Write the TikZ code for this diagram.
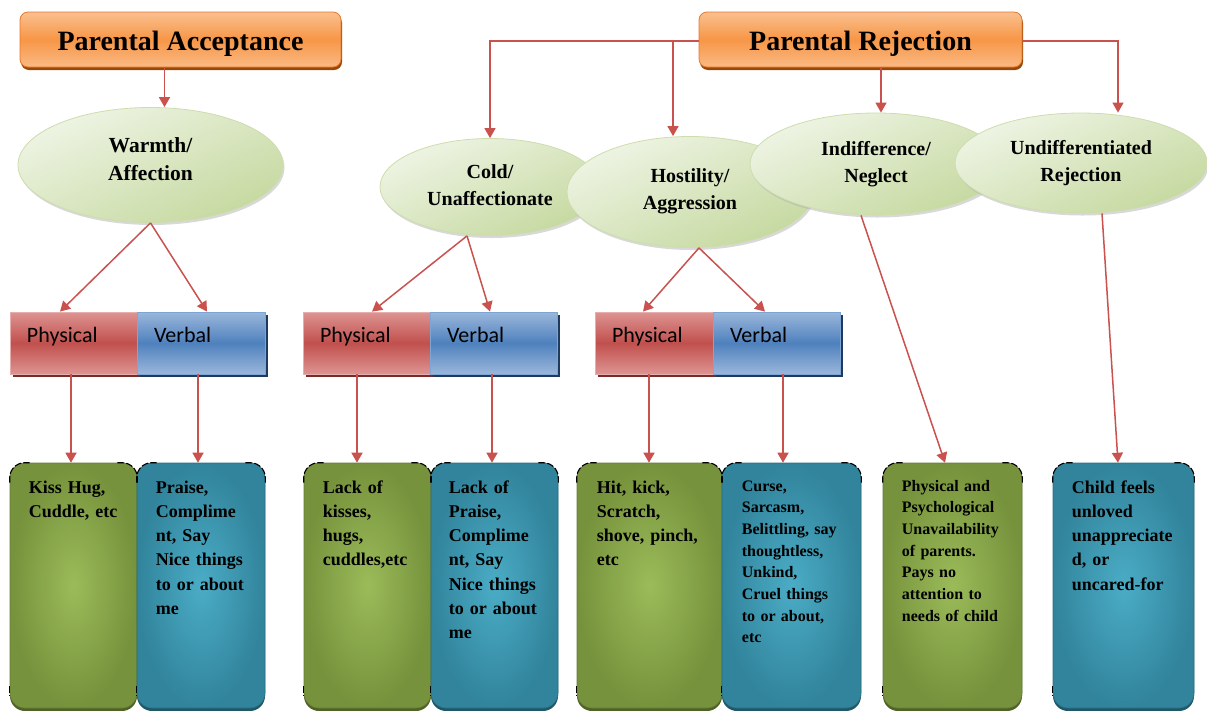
\documentclass[tikz,border=0pt]{standalone}
\usepackage{fontspec}
\setmainfont{Liberation Serif}
\newfontfamily\calib{Carlito}
\usetikzlibrary{shapes.geometric,arrows.meta,shadows,calc}
\definecolor{orT}{HTML}{FAC090}
\definecolor{orM}{HTML}{F79646}
\definecolor{orB}{HTML}{E8782A}
\definecolor{orS}{HTML}{984807}
\definecolor{elT}{HTML}{EEF4E4}
\definecolor{elB}{HTML}{C6D9A0}
\definecolor{elD}{HTML}{B8CF8A}
\definecolor{rdL}{HTML}{DE9492}
\definecolor{rdM}{HTML}{C0504D}
\definecolor{rdS}{HTML}{772C2A}
\definecolor{rdD}{HTML}{E6AFAE}
\definecolor{blL}{HTML}{9AB7DB}
\definecolor{blM}{HTML}{4F81BD}
\definecolor{blS}{HTML}{1F3A5F}
\definecolor{blD}{HTML}{7FA5D4}
\definecolor{gnI}{HTML}{9BBB59}
\definecolor{gnO}{HTML}{76923C}
\definecolor{gnS}{HTML}{4F6228}
\definecolor{tlI}{HTML}{4BACC6}
\definecolor{tlO}{HTML}{31849B}
\definecolor{tlS}{HTML}{205867}
\definecolor{arrc}{HTML}{C9524F}
\newcommand\cornermarks[1]{%
  \draw[cornermark] ([yshift=-20pt]#1.north west) -- (#1.north west) -- ([xshift=20pt]#1.north west);
  \draw[cornermark] ([xshift=-20pt]#1.north east) -- (#1.north east) -- ([yshift=-20pt]#1.north east);
  \draw[cornermark] ([yshift=22pt]#1.south west) -- ([yshift=12pt]#1.south west);
}
\tikzset{
  titlebox/.style={draw=orB, line width=0.8pt, rounded corners=8pt,
    top color=orT, bottom color=orT!85!orM, middle color=orM,
    minimum height=55pt, inner sep=0pt, text height=27pt, text depth=6pt,
    font=\fontsize{28}{32}\selectfont\bfseries,
    drop shadow={shadow xshift=1pt, shadow yshift=-3pt, fill=orS, opacity=1}},
  ell/.style={ellipse, draw=elD!70, line width=0.8pt, inner sep=0pt, align=center,
    top color=elT, bottom color=elB, shading angle=25,
    font=\fontsize{20}{27}\selectfont\bfseries,
    drop shadow={shadow xshift=1.5pt, shadow yshift=-2.5pt, fill=gray!60, opacity=0.5}},
  bar/.style={line width=0.8pt, minimum height=62pt, inner xsep=17pt, inner ysep=0pt,
    text height=10pt, text depth=12pt, align=left,
    font=\calib\fontsize{22}{26}\selectfont},
  phys/.style={bar, draw=rdD, top color=rdL, bottom color=rdL, middle color=rdM,
    drop shadow={shadow xshift=3pt, shadow yshift=-3pt, fill=rdS, opacity=1}},
  verb/.style={bar, draw=blD, top color=blL, bottom color=blL, middle color=blM,
    drop shadow={shadow xshift=3pt, shadow yshift=-3pt, fill=blS, opacity=1}},
  cbox/.style={rounded corners=15pt, minimum height=245pt, inner sep=0pt, line width=0.6pt},
  gbox/.style={cbox, draw=gnO!85!black, inner color=gnI, outer color=gnO,
    drop shadow={shadow xshift=0pt, shadow yshift=-3pt, fill=gnS, opacity=1}},
  bbox/.style={cbox, draw=tlO!85!black, inner color=tlI, outer color=tlO,
    drop shadow={shadow xshift=0pt, shadow yshift=-3pt, fill=tlS, opacity=1}},
  btext/.style={text width=125pt, align=left, anchor=base west, inner sep=0pt,
    font=\fontsize{18}{24.3}\selectfont\bfseries},
  stext/.style={btext, font=\fontsize{16}{21.7}\selectfont\bfseries},
  cornermark/.style={black, line width=1.1pt, rounded corners=15pt, dash pattern=on 7pt off 2pt},
  arrow/.style={draw=arrc, line width=1.5pt, -{Triangle[length=10pt,width=11pt]}},
}
\begin{document}
\begin{tikzpicture}[x=1pt,y=-1pt]
\useasboundingbox (0,0) rectangle (1207,710);

% top boxes
\node[titlebox, minimum width=321pt] (acc) at (180.5,39.5) {Parental Acceptance};
\node[titlebox, minimum width=323pt] (rej) at (860.5,39.5) {Parental Rejection};

% ellipses
\node[ell, minimum width=265pt, minimum height=115pt, text depth=12pt, font=\fontsize{21.5}{28.5}\selectfont\bfseries] (warm) at (150.5,165) {Warmth/\\Affection};
\node[ell, minimum width=220pt, minimum height=97pt, text depth=4pt] (cold) at (490,187) {Cold/\\Unaffectionate};
\node[ell, minimum width=246pt, minimum height=111pt, text depth=6pt] (hos) at (690,192) {Hostility/\\Aggression};
\node[ell, minimum width=252pt, minimum height=102pt] (ind) at (876,164) {Indifference/\\Neglect};
\node[ell, minimum width=252pt, minimum height=100pt] (und) at (1081,163) {Undifferentiated\\Rejection};

% bars
\node[phys, text width=93pt] (p1) at (73.5,343) {Physical};
\node[verb, text width=94pt] (v1) at (201,343) {Verbal};
\node[phys, text width=93pt] (p2) at (366.5,343) {Physical};
\node[verb, text width=93pt] (v2) at (493.5,343) {Verbal};
\node[phys, text width=84pt] (p3) at (654,343) {Physical};
\node[verb, text width=93pt] (v3) at (776.5,343) {Verbal};

% bottom boxes
\node[gbox, minimum width=127pt] (b1) at (73.5,585.5) {};
\node[bbox, minimum width=128pt] (b2) at (201,585.5) {};
\node[gbox, minimum width=127pt] (b3) at (367.5,585.5) {};
\node[bbox, minimum width=127pt] (b4) at (494.5,585.5) {};
\node[gbox, minimum width=145pt] (b5) at (649.5,585.5) {};
\node[bbox, minimum width=139pt] (b6) at (791.5,585.5) {};
\node[gbox, minimum width=139pt] (b7) at (952.5,585.5) {};
\node[bbox, minimum width=141pt] (b8) at (1123.5,585.5) {};
\cornermarks{b1}\cornermarks{b2}\cornermarks{b3}\cornermarks{b4}
\cornermarks{b5}\cornermarks{b6}\cornermarks{b7}\cornermarks{b8}

\node[btext] (t1) at ([xshift=19pt]b1.west |- 0,493) {Kiss Hug,\\Cuddle, etc};
\node[btext] (t2) at ([xshift=19pt]b2.west |- 0,493) {Praise,\\Complime\\nt, Say\\Nice things\\to or about\\me};
\node[btext] (t3) at ([xshift=19pt]b3.west |- 0,493) {Lack of\\kisses,\\hugs,\\cuddles,etc};
\node[btext] (t4) at ([xshift=18pt]b4.west |- 0,493) {Lack of\\Praise,\\Complime\\nt, Say\\Nice things\\to or about\\me};
\node[btext] (t5) at ([xshift=20pt]b5.west |- 0,493) {Hit, kick,\\Scratch,\\shove, pinch,\\etc};
\node[stext] (t6) at ([xshift=20pt]b6.west |- 0,491) {Curse,\\Sarcasm,\\Belittling, say\\thoughtless,\\Unkind,\\Cruel things\\to or about,\\etc};
\node[stext] (t7) at ([xshift=19pt]b7.west |- 0,491) {Physical and\\Psychological\\Unavailability\\of parents.\\Pays no\\attention to\\needs of child};
\node[btext] (t8) at ([xshift=19pt]b8.west |- 0,493) {Child feels\\unloved\\unappreciate\\d, or\\uncared-for};

% connectors: top
\draw[arrow] ([xshift=-16pt]acc.south) -- ([xshift=-16pt]acc.south |- warm.north);
\draw[arrow] ([yshift=-1.5pt]rej.west) -| (cold.north);
\draw[arrow] ([xshift=-17pt]hos.north |- 0,41) -- ([xshift=-17pt]hos.north);
\draw[arrow] ([xshift=5pt]ind.north |- rej.south) -- ([xshift=5pt]ind.north);
\draw[arrow] ([yshift=-1.5pt]rej.east) -| ([xshift=37pt]und.north);

% ellipses to bars
\draw[arrow] (warm.south) -- ([xshift=-13.5pt]p1.north);
\draw[arrow] (warm.south) -- ([xshift=6pt]v1.north);
\draw[arrow] ([xshift=-23pt]cold.south) -- ([xshift=5.5pt]p2.north);
\draw[arrow] ([xshift=-23pt]cold.south) -- ([xshift=-3.5pt]v2.north);
\draw[arrow] ([xshift=9pt]hos.south) -- ([xshift=-11pt]p3.north);
\draw[arrow] ([xshift=9pt]hos.south) -- ([xshift=-11.5pt]v3.north);

% bars to boxes
\draw[arrow] ([xshift=-2.5pt]p1.south) -- ([xshift=-2.5pt]p1.south |- b1.north);
\draw[arrow] ([xshift=-3pt]v1.south) -- ([xshift=-3pt]v1.south |- b2.north);
\draw[arrow] ([xshift=-9.5pt]p2.south) -- ([xshift=-9.5pt]p2.south |- b3.north);
\draw[arrow] ([xshift=-1.5pt]v2.south) -- ([xshift=-1.5pt]v2.south |- b4.north);
\draw[arrow] ([xshift=-5pt]p3.south) -- ([xshift=-5pt]p3.south |- b5.north);
\draw[arrow] ([xshift=6.5pt]v3.south) -- ([xshift=6.5pt]v3.south |- b6.north);
\draw[arrow] ([xshift=-15pt]ind.south) -- ([xshift=-7.5pt]b7.north);
\draw[arrow] ([xshift=21pt]und.south) -- ([xshift=-5.5pt]b8.north);
\end{tikzpicture}
\end{document}
